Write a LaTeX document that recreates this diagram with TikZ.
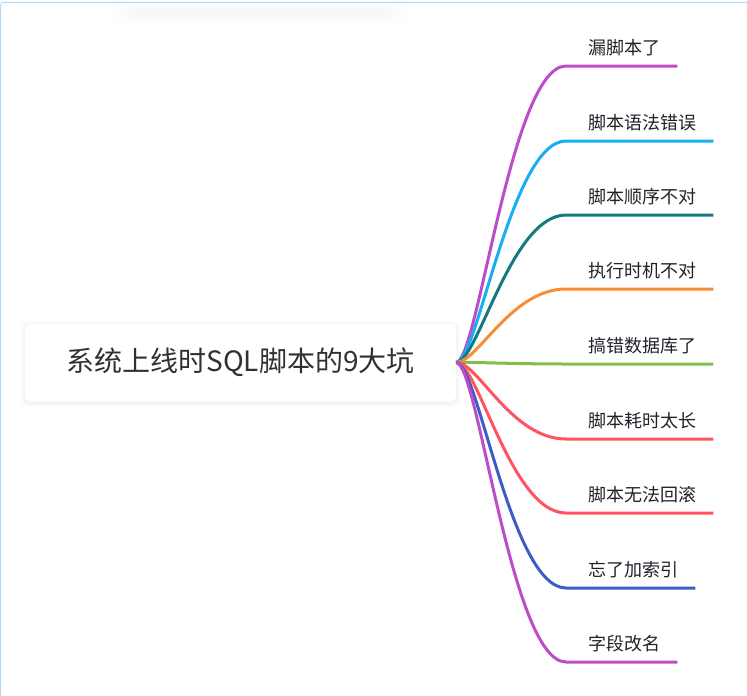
\documentclass[tikz,border=0pt]{standalone}
\usepackage{fontspec}
\newfontfamily\cjk{Noto Sans CJK SC}

\definecolor{framecol}{HTML}{B4DAFB}
\definecolor{rootcol}{HTML}{303133}
\definecolor{leafcol}{HTML}{1F2329}
\definecolor{cPurple}{HTML}{BE4CC8}
\definecolor{cBlue}{HTML}{17AEF2}
\definecolor{cTeal}{HTML}{147A80}
\definecolor{cOrange}{HTML}{F98D34}
\definecolor{cGreen}{HTML}{84BD45}
\definecolor{cRed}{HTML}{FF5360}
\definecolor{cIndigo}{HTML}{3D5DC6}

\begin{document}
\begin{tikzpicture}[
  x=1pt, y=-1pt,
  root/.style={fill=white, rounded corners=6pt, minimum width=431pt, minimum height=78pt,
    font=\cjk\fontsize{28}{33}\selectfont, text=rootcol},
  leaf/.style={anchor=west, inner xsep=17pt, inner ysep=0pt,
    font=\cjk\fontsize{18}{22}\selectfont, text=leafcol},
  branch/.style={line width=3pt},
  halo/.style={fill=black, opacity=0.012, rounded corners=8pt}
]
\useasboundingbox (0,0) rectangle (747,696);

% frame
\foreach \k in {0,...,7}
  \fill[halo, opacity=0.005] (112+4*\k,2+\k) rectangle (408-4*\k,24-\k);
\draw[framecol, line width=1pt, rounded corners=3pt] (0.7,720) -- (0.7,2.3) -- (770,2.3);

% root
\foreach \k in {1,...,4}
  \fill[halo] (25-\k,324-\k+1) rectangle (456+\k,402+\k+1);
\node[root] (root) at (240.5,362.5) {系统上线时SQL脚本的9大坑};
\coordinate (hub) at (root.east);

% branches
\foreach \i/\y/\c/\t in {1/66/cPurple/漏脚本了, 2/141/cBlue/脚本语法错误,
    3/215/cTeal/脚本顺序不对, 4/289/cOrange/执行时机不对, 5/364/cGreen/搞错数据库了,
    6/439/cRed/脚本耗时太长, 7/513/cRed/脚本无法回滚, 8/588/cIndigo/忘了加索引,
    9/662/cPurple/字段改名}{
  \coordinate (e\i) at (566,\y);
  \node[leaf] (l\i) at (571,\y-18) {\t};
  \draw[branch, \c] (hub) .. controls (478,362) and (511,\y) .. (e\i) -- (l\i.east |- e\i);
}

\end{tikzpicture}
\end{document}
